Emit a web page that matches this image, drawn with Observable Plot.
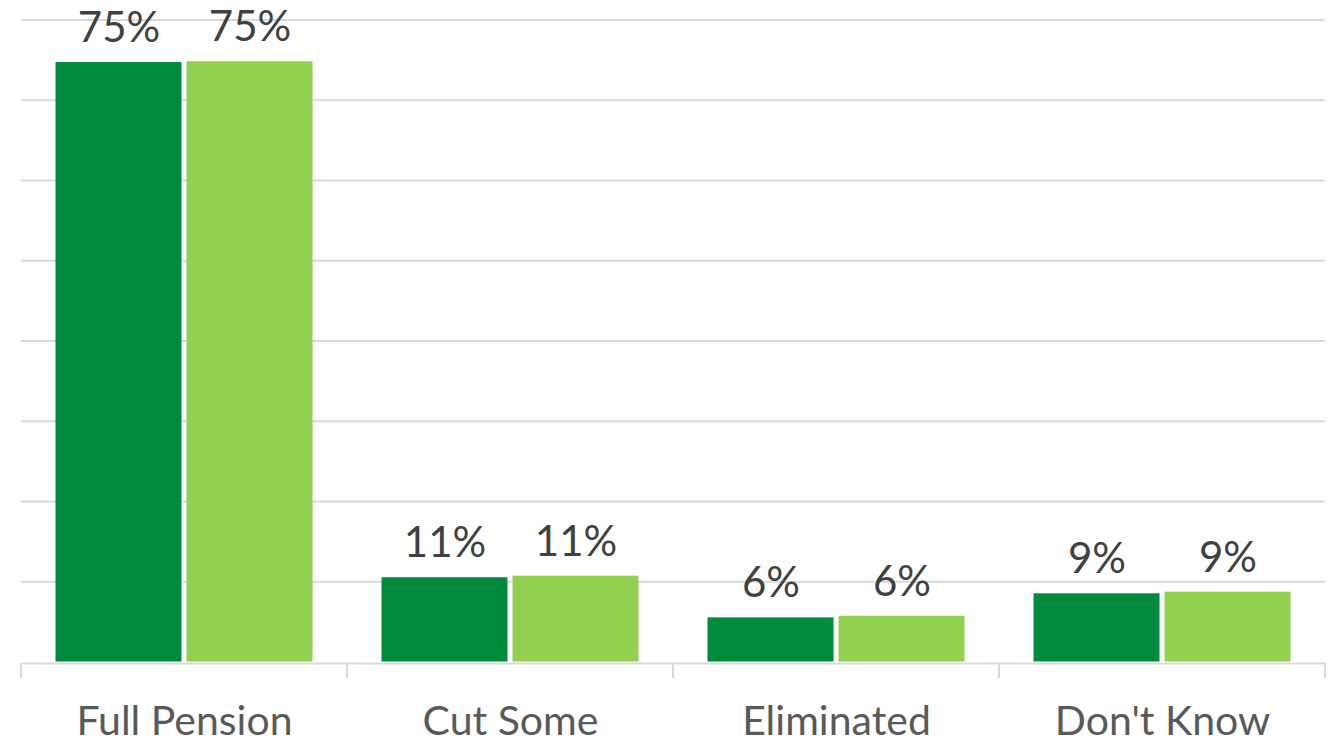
<!DOCTYPE html>
<html>
<head>
<meta charset="utf-8">
<script src="https://cdn.jsdelivr.net/npm/d3@7"></script>
<script src="https://cdn.jsdelivr.net/npm/@observablehq/plot@0.6"></script>
<style>
  html, body { margin: 0; padding: 0; background: #fff; }
</style>
</head>
<body>
<div id="chart"></div>
<script>
const categories = ["Full Pension", "Cut Some", "Eliminated", "Don't Know"];
const series = ["Series A", "Series B"];
const valuesA = [74.7, 10.5, 5.5, 8.5];
const valuesB = [74.8, 10.7, 5.7, 8.7];
const gridTicks = [0, 10, 20, 30, 40, 50, 60, 70, 80];

const data = [];
categories.forEach((c, i) => {
  data.push({category: c, series: series[0], value: valuesA[i]});
  data.push({category: c, series: series[1], value: valuesB[i]});
});

const W = 1335, H = 746;
const chart = Plot.plot({
  width: W,
  height: H,
  marginLeft: 19,
  marginRight: 9,
  marginTop: 19.5,
  marginBottom: 84.5,
  style: {fontFamily: "Lato, 'Open Sans', sans-serif", background: "#fff"},
  fx: {domain: categories, padding: 0, label: null},
  x: {domain: series, paddingInner: 0, paddingOuter: 0.24, axis: null},
  y: {domain: [0, 80], axis: null},
  color: {domain: series, range: ["#008A3E", "#92D050"]},
  marks: [
    Plot.ruleY(gridTicks.slice(1), {stroke: "#d9d9d9", strokeWidth: 2}),
    Plot.barY(data, {fx: "category", x: "series", y: "value", fill: "series", insetLeft: 2.5, insetRight: 2.5}),
    Plot.ruleY([0], {stroke: "#d9d9d9", strokeWidth: 2, dy: 1.5}),
    Plot.text(data, {
      fx: "category", x: "series", y: "value",
      text: d => Math.round(d.value) + "%",
      dy: -34, fontSize: 42, fill: "#404040"
    }),
    Plot.axisFx({anchor: "bottom", tickSize: 0, tickPadding: 44, fontSize: 41, color: "#595959", label: null})
  ]
});

// category boundary tick marks on the x axis, placed from the fx scale
const fx = chart.scale("fx");
const yScale = chart.scale("y");
const y0 = yScale.apply(0) + 1.5;
const bounds = fx.domain.map(c => fx.apply(c));
bounds.push(fx.apply(fx.domain[fx.domain.length - 1]) + fx.bandwidth);
const svg = d3.select(chart);
svg.append("g")
  .selectAll("line")
  .data(bounds)
  .join("line")
  .attr("x1", d => d).attr("x2", d => d)
  .attr("y1", y0).attr("y2", y0 + 15)
  .attr("stroke", "#d9d9d9")
  .attr("stroke-width", 2);

document.getElementById("chart").appendChild(chart);
</script>
</body>
</html>
